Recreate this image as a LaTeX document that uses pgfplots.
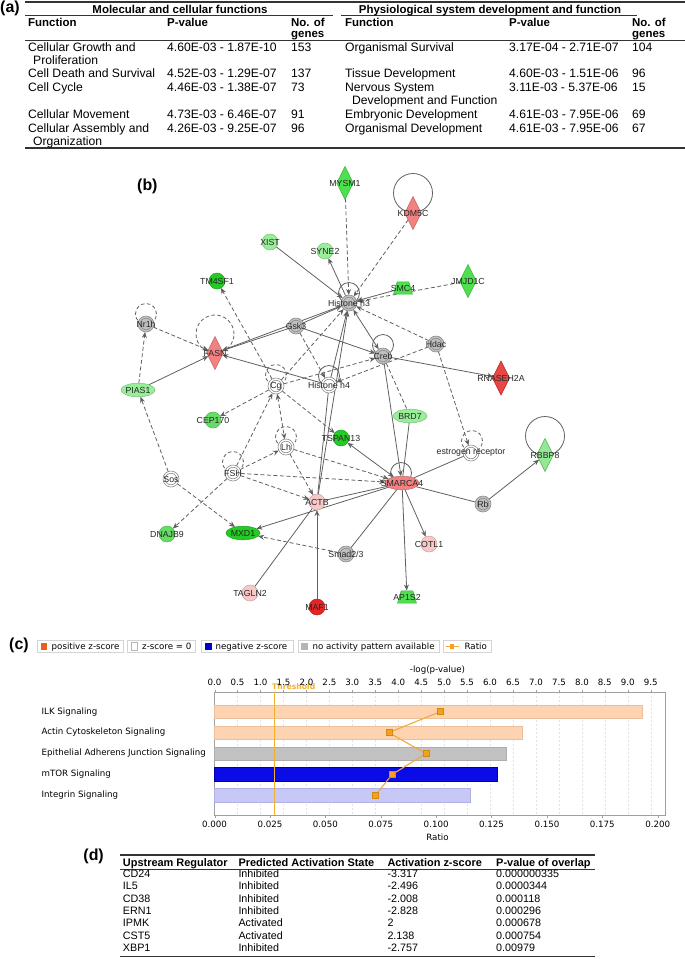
\documentclass[border=0pt]{standalone}
\usepackage{fontspec}
\setmainfont{Liberation Sans}
\newfontfamily\dvs{DejaVu Sans}
\usepackage{pgfplots}
\pgfplotsset{compat=1.18}
\usetikzlibrary{arrows.meta}

% colours
\definecolor{edgec}{HTML}{606060}
\definecolor{gfill}{HTML}{C0C0C0}
\definecolor{gdraw}{HTML}{8A8A8A}
\definecolor{gA}{HTML}{22CC22}
\definecolor{gB}{HTML}{99EE99}
\definecolor{gC}{HTML}{66DD66}
\definecolor{gD}{HTML}{4FE04F}
\definecolor{pk}{HTML}{F8C8C8}
\definecolor{sal}{HTML}{F28282}
\definecolor{rd}{HTML}{E52525}
\definecolor{peach}{HTML}{FDD3B2}
\definecolor{peachd}{HTML}{EBBE9C}
\definecolor{epi}{HTML}{C2C2C2}
\definecolor{epid}{HTML}{ADADAD}
\definecolor{mtor}{HTML}{0B0BE6}
\definecolor{mtord}{HTML}{0000A8}
\definecolor{integ}{HTML}{C8C8F7}
\definecolor{integd}{HTML}{B0B0E8}
\definecolor{ratc}{HTML}{F0AA3C}
\definecolor{ratm}{HTML}{F5A020}
\definecolor{ratd}{HTML}{D08A10}
\definecolor{thrc}{HTML}{F0B030}
\definecolor{framec}{HTML}{A0A0A0}
\definecolor{legpos}{HTML}{E8601C}
\definecolor{legneg}{HTML}{0000CC}
\definecolor{leggray}{HTML}{B4B4B4}
\definecolor{legbox}{HTML}{D4D4D4}
\definecolor{rule}{HTML}{333333}

% fonts
\newcommand\fa{\fontsize{12.2}{14}\selectfont}
\newcommand\fah{\fontsize{11.5}{13}\selectfont\bfseries}
\newcommand\fd{\fontsize{10.8}{12}\selectfont}
\newcommand\fdh{\fontsize{11}{12}\selectfont\bfseries}
\newcommand\nodefont{\fontsize{8.8}{9}\selectfont}
\newcommand\fc{\dvs\fontsize{8.7}{10}\selectfont}
\newcommand\fp{\fontsize{16}{16}\selectfont\bfseries}

% node shapes
\pgfdeclareplotmark{dia}{\pgfpathmoveto{\pgfqpoint{0pt}{2\pgfplotmarksize}}%
  \pgfpathlineto{\pgfqpoint{\pgfplotmarksize}{0pt}}%
  \pgfpathlineto{\pgfqpoint{0pt}{-2\pgfplotmarksize}}%
  \pgfpathlineto{\pgfqpoint{-\pgfplotmarksize}{0pt}}\pgfpathclose\pgfusepathqfillstroke}
\pgfdeclareplotmark{ell}{\pgfpathellipse{\pgfpointorigin}{\pgfqpoint{2\pgfplotmarksize}{0pt}}%
  {\pgfqpoint{0pt}{0.8\pgfplotmarksize}}\pgfusepathqfillstroke}
\pgfdeclareplotmark{trap}{\pgfpathmoveto{\pgfqpoint{-\pgfplotmarksize}{-0.65\pgfplotmarksize}}%
  \pgfpathlineto{\pgfqpoint{\pgfplotmarksize}{-0.65\pgfplotmarksize}}%
  \pgfpathlineto{\pgfqpoint{0.62\pgfplotmarksize}{0.65\pgfplotmarksize}}%
  \pgfpathlineto{\pgfqpoint{-0.62\pgfplotmarksize}{0.65\pgfplotmarksize}}\pgfpathclose\pgfusepathqfillstroke}
\pgfdeclareplotmark{dcirc}{\pgfpathcircle{\pgfpointorigin}{\pgfplotmarksize}\pgfusepathqfillstroke
  \pgfpathcircle{\pgfpointorigin}{0.72\pgfplotmarksize}\pgfusepathqstroke}

\tikzset{
  edgebase/.style={draw=edgec, line width=0.8bp},
  sa/.style={-{Stealth[length=6bp,width=5bp]}},
  ba/.style={{Stealth[length=6bp,width=5bp]}-{Stealth[length=6bp,width=5bp]}},
  ds/.style={dash pattern=on 4bp off 2.5bp},
}

% network nodes: name, x, y (pixels, y down), shape (e/d), half width, half height
\newcommand\N[6]{%
  \expandafter\def\csname nx@#1\endcsname{#2}%
  \expandafter\def\csname ny@#1\endcsname{#3}%
  \expandafter\def\csname ns@#1\endcsname{#4}%
  \expandafter\def\csname na@#1\endcsname{#5}%
  \expandafter\def\csname nb@#1\endcsname{#6}}
\N{MYSM1}{345}{183}{d}{8.25}{16.5}
\N{KDM5C}{413}{213}{d}{8.25}{16.5}
\N{XIST}{270}{242}{e}{8}{8}
\N{SYNE2}{325}{251}{e}{8}{8}
\N{TM4SF1}{217}{281}{e}{8}{8}
\N{Histone h3}{349}{303}{e}{8}{8}
\N{SMC4}{403}{288}{e}{9}{6.5}
\N{JMJD1C}{468}{281}{d}{8.25}{16.5}
\N{Nr1h}{146}{324}{e}{8}{8}
\N{Gsk3}{296}{326}{e}{8}{8}
\N{FASN}{215}{353}{d}{8.25}{16.5}
\N{Creb}{383}{356}{e}{8}{8}
\N{Hdac}{436}{344}{e}{8}{8}
\N{RNASEH2A}{501}{378}{d}{8.5}{16.5}
\N{Cg}{276}{386}{e}{8}{8}
\N{Histone h4}{329}{385}{e}{8}{8}
\N{PIAS1}{138}{390}{e}{17}{6.8}
\N{CEP170}{213}{420}{e}{8}{8}
\N{BRD7}{410}{416}{e}{17}{6.8}
\N{TSPAN13}{341}{438}{e}{8}{8}
\N{Lh}{286}{447}{e}{8}{8}
\N{estrogen receptor}{471}{453}{e}{8}{8}
\N{RBBP8}{545}{455}{d}{8.25}{16.5}
\N{FSH}{233}{473}{e}{8}{8}
\N{Sos}{171}{479}{e}{8}{8}
\N{SMARCA4}{402}{483}{e}{17}{6.8}
\N{ACTB}{317}{502}{e}{8}{8}
\N{Rb}{483}{504}{e}{8}{8}
\N{DNAJB9}{167}{534}{e}{8}{8}
\N{MXD1}{243}{533}{e}{17}{6.8}
\N{COTL1}{429}{544}{e}{8}{8}
\N{Smad2/3}{346}{554}{e}{8}{8}
\N{TAGLN2}{250}{593}{e}{8}{8}
\N{AP1S2}{407}{597}{e}{9}{6.5}
\N{MAF1}{317}{607}{e}{8}{8}

% distance from a node's centre to its border along a direction
\newcommand\bd[3]{%
  \edef\shp{\csname ns@#1\endcsname}%
  \edef\aa{\csname na@#1\endcsname}\edef\bb{\csname nb@#1\endcsname}%
  \if d\shp \pgfmathsetmacro\bdval{1/(#2/\aa+#3/\bb)}%
  \else \pgfmathsetmacro\bdval{\aa*\bb/sqrt((\bb*#2)^2+(\aa*#3)^2)}\fi}

% one edge of the network
\newcommand\E[3][]{%
  \edef\xa{\csname nx@#2\endcsname}\edef\ya{\csname ny@#2\endcsname}%
  \edef\xb{\csname nx@#3\endcsname}\edef\yb{\csname ny@#3\endcsname}%
  \pgfmathsetmacro\dx{\xb-\xa}\pgfmathsetmacro\dy{\yb-\ya}%
  \pgfmathsetmacro\L{veclen(\dx,\dy)}%
  \pgfmathsetmacro\cc{abs(\dx)/\L}\pgfmathsetmacro\ss{abs(\dy)/\L}%
  \bd{#2}{\cc}{\ss}\let\da\bdval
  \bd{#3}{\cc}{\ss}\let\db\bdval
  \edef\tmp{\noexpand\addplot[edgebase,\unexpanded{#1},shorten <=\da bp,shorten >=\db bp]
    coordinates {(\xa,\ya)(\xb,\yb)};}\tmp}

% a group of nodes drawn with one mark style
\newcommand\nodeplot[2]{%
  \gdef\coords{}%
  \foreach \nm in {#2}{\xdef\coords{\coords(\csname nx@\nm\endcsname,\csname ny@\nm\endcsname)[\nm]}}%
  \edef\tmp{\noexpand\addplot[only marks,point meta=explicit symbolic,nodes near coords,
    every node near coord/.append style={anchor=center,font=\noexpand\nodefont,inner sep=0pt,text=black!85},
    \unexpanded{#1}] coordinates {\coords};}\tmp}

\newcommand\T[4][]{\node[anchor=base west, inner sep=0pt, #1] at (#2,#3) {#4};}

\begin{document}
\begin{tikzpicture}
\path[use as bounding box] (0,0) rectangle (685bp,-959bp);

\begin{axis}[at={(0,0)}, anchor=north west, scale only axis,
  width=685bp, height=959bp, xmin=0, xmax=685, ymin=0, ymax=959,
  y dir=reverse, hide axis, clip=false]

%% (a) tables
\T[font=\fp]{0}{12}{(a)}
\draw[rule, line width=1.6bp] (25,2) -- (685,2);
\draw[rule, line width=0.9bp] (25,15.5) -- (333,15.5);
\draw[rule, line width=0.9bp] (341,15.5) -- (637,15.5);
\draw[rule, line width=0.9bp] (25,40) -- (685,40);
\draw[rule, line width=1.6bp] (25,148) -- (685,148);
\T[font=\fah, anchor=base]{180}{13}{Molecular and cellular functions}
\T[font=\fah, anchor=base]{490}{13}{Physiological system development and function}
\T[font=\fah]{28}{26}{Function}
\T[font=\fah]{167}{26}{P-value}
\T[font=\fah]{291}{26}{No. of}
\T[font=\fah]{291}{37}{genes}
\T[font=\fah]{345}{26}{Function}
\T[font=\fah]{509}{26}{P-value}
\T[font=\fah]{632}{26}{No. of}
\T[font=\fah]{632}{37}{genes}

\T[font=\fa]{28}{51}{Cellular Growth and}
\T[font=\fa]{33}{64}{Proliferation}
\T[font=\fa]{167}{51}{4.60E-03 - 1.87E-10}
\T[font=\fa]{291}{51}{153}
\T[font=\fa]{28}{77.5}{Cell Death and Survival}
\T[font=\fa]{167}{77.5}{4.52E-03 - 1.29E-07}
\T[font=\fa]{291}{77.5}{137}
\T[font=\fa]{28}{91}{Cell Cycle}
\T[font=\fa]{167}{91}{4.46E-03 - 1.38E-07}
\T[font=\fa]{291}{91}{73}
\T[font=\fa]{28}{118.5}{Cellular Movement}
\T[font=\fa]{167}{118.5}{4.73E-03 - 6.46E-07}
\T[font=\fa]{291}{118.5}{91}
\T[font=\fa]{28}{132}{Cellular Assembly and}
\T[font=\fa]{33}{145}{Organization}
\T[font=\fa]{167}{132}{4.26E-03 - 9.25E-07}
\T[font=\fa]{291}{132}{96}

\T[font=\fa]{345}{51}{Organismal Survival}
\T[font=\fa]{509}{51}{3.17E-04 - 2.71E-07}
\T[font=\fa]{632}{51}{104}
\T[font=\fa]{345}{77.5}{Tissue Development}
\T[font=\fa]{509}{77.5}{4.60E-03 - 1.51E-06}
\T[font=\fa]{632}{77.5}{96}
\T[font=\fa]{345}{91}{Nervous System}
\T[font=\fa]{352}{104.5}{Development and Function}
\T[font=\fa]{509}{91}{3.11E-03 - 5.37E-06}
\T[font=\fa]{632}{91}{15}
\T[font=\fa]{345}{118.5}{Embryonic Development}
\T[font=\fa]{509}{118.5}{4.61E-03 - 7.95E-06}
\T[font=\fa]{632}{118.5}{69}
\T[font=\fa]{345}{132}{Organismal Development}
\T[font=\fa]{509}{132}{4.61E-03 - 7.95E-06}
\T[font=\fa]{632}{132}{67}

%% (b) network
\T[font=\fp]{137}{190}{(b)}

% self loops
\addplot[only marks, mark=o, mark size=10.5bp, mark options={draw=edgec, line width=0.8bp}]
  coordinates {(349,293)(383,345)(329,376)(401,473)};
\addplot[only marks, mark=o, mark size=10.5bp, mark options={draw=edgec, line width=0.8bp, dash pattern=on 3.5bp off 2.5bp}]
  coordinates {(146,314)(276,375)(286,437)(233,462)(472,441)};
\addplot[only marks, mark=o, mark size=19.5bp, mark options={draw=edgec, line width=0.8bp}]
  coordinates {(413,193)(545,436)};
\addplot[only marks, mark=o, mark size=19bp, mark options={draw=edgec, line width=0.8bp, dash pattern=on 3.5bp off 2.5bp}]
  coordinates {(215,334)};

% edges
\E[sa,ds]{MYSM1}{Histone h3}
\E[sa,ds]{KDM5C}{Histone h3}
\E[sa]{XIST}{Histone h3}
\E[sa]{Histone h3}{SYNE2}
\E[sa]{SMC4}{Histone h3}
\E[sa,ds]{JMJD1C}{Histone h3}
\E[sa,ds]{Hdac}{Histone h3}
\E[sa]{Gsk3}{Histone h3}
\E[sa]{Histone h3}{FASN}
\E[sa]{Gsk3}{FASN}
\E[sa]{Gsk3}{Creb}
\E[sa,ds]{Gsk3}{Histone h4}
\E[sa,ds]{Nr1h}{FASN}
\E[sa,ds]{PIAS1}{Nr1h}
\E[sa]{PIAS1}{FASN}
\E[sa,ds]{Sos}{PIAS1}
\E[sa]{Histone h4}{FASN}
\E[sa,ds]{Cg}{TM4SF1}
\E[sa,ds]{Cg}{Histone h3}
\E[sa,ds]{Cg}{Creb}
\E[sa,ds]{Cg}{CEP170}
\E[sa,ds]{Cg}{TSPAN13}
\E[ba,ds]{Cg}{Lh}
\E[sa,ds]{FSH}{Cg}
\E[sa,ds]{FSH}{Lh}
\E[sa,ds]{FSH}{SMARCA4}
\E[sa,ds]{FSH}{ACTB}
\E[sa,ds]{FSH}{DNAJB9}
\E[sa,ds]{Lh}{ACTB}
\E[sa,ds]{Lh}{SMARCA4}
\E[sa,ds]{Sos}{MXD1}
\E[sa]{Histone h4}{Histone h3}
\E[sa]{ACTB}{Histone h3}
\E[]{ACTB}{Histone h4}
\E[ba]{Creb}{Histone h3}
\E[sa]{Creb}{RNASEH2A}
\E[sa,ds]{Hdac}{Histone h4}
\E[sa,ds]{Hdac}{estrogen receptor}
\E[sa]{Creb}{SMARCA4}
\E[ds]{Creb}{BRD7}
\E[]{BRD7}{SMARCA4}
\E[]{SMARCA4}{estrogen receptor}
\E[ba]{SMARCA4}{TSPAN13}
\E[]{SMARCA4}{Rb}
\E[sa]{Rb}{RBBP8}
\E[]{SMARCA4}{ACTB}
\E[sa]{SMARCA4}{MXD1}
\E[sa,ds]{Smad2/3}{MXD1}
\E[]{SMARCA4}{Smad2/3}
\E[sa]{SMARCA4}{COTL1}
\E[sa]{SMARCA4}{AP1S2}
\E[]{TAGLN2}{ACTB}
\E[sa]{MAF1}{ACTB}

% nodes
\nodeplot{mark=dcirc, mark size=8bp, mark options={fill=gfill, draw=gdraw, line width=0.6bp}}
  {Nr1h,Gsk3,Histone h3,Creb,Hdac,Rb,Smad2/3}
\nodeplot{mark=dcirc, mark size=8bp, mark options={fill=white, draw=gdraw, line width=0.6bp}}
  {Cg,Histone h4,Lh,FSH,Sos,estrogen receptor}
\nodeplot{mark=*, mark size=8bp, mark options={fill=gA, draw=gA!80!black, line width=0.5bp}}
  {TM4SF1,TSPAN13}
\nodeplot{mark=*, mark size=8bp, mark options={fill=gB, draw=gB!80!black, line width=0.5bp}}
  {XIST,SYNE2}
\nodeplot{mark=*, mark size=8bp, mark options={fill=gC, draw=gC!80!black, line width=0.5bp}}
  {CEP170,DNAJB9}
\nodeplot{mark=*, mark size=8bp, mark options={fill=pk, draw=pk!80!black, line width=0.5bp}}
  {ACTB,COTL1,TAGLN2}
\nodeplot{mark=*, mark size=8bp, mark options={fill=rd, draw=rd!80!black, line width=0.5bp}}
  {MAF1}
\nodeplot{mark=ell, mark size=8.5bp, mark options={fill=gB, draw=gB!80!black, line width=0.5bp}}
  {PIAS1,BRD7}
\nodeplot{mark=ell, mark size=8.5bp, mark options={fill=gA, draw=gA!80!black, line width=0.5bp}}
  {MXD1}
\nodeplot{mark=ell, mark size=8.5bp, mark options={fill=sal, draw=sal!80!black, line width=0.5bp}}
  {SMARCA4}
\nodeplot{mark=dia, mark size=8.25bp, mark options={fill=gD, draw=gD!80!black, line width=0.5bp}}
  {MYSM1,JMJD1C}
\nodeplot{mark=dia, mark size=8.25bp, mark options={fill=gC!70!white, draw=gC!80!black, line width=0.5bp}}
  {RBBP8}
\nodeplot{mark=dia, mark size=8.25bp, mark options={fill=sal, draw=sal!80!black, line width=0.5bp}}
  {KDM5C,FASN}
\nodeplot{mark=dia, mark size=8.5bp, mark options={fill=rd!85!white, draw=rd!80!black, line width=0.5bp}}
  {RNASEH2A}
\nodeplot{mark=trap, mark size=9.5bp, mark options={fill=gD, draw=gD!80!black, line width=0.5bp}}
  {SMC4,AP1S2}

%% (c) legend and labels
\T[font=\fp, anchor=base west]{9}{649.5}{(c)}
\draw[legbox, fill=white, line width=0.6bp] (37.1,640) rectangle (123.2,652.7);
\fill[legpos] (40.6,642.7) rectangle (47.2,650);
\T[font=\fc]{51.5}{649.5}{positive z-score}
\draw[legbox, fill=white, line width=0.6bp] (127.6,640) rectangle (195.7,652.7);
\draw[leggray, fill=white, line width=0.5bp] (131,642.7) rectangle (137.6,650);
\T[font=\fc]{142}{649.5}{z-score = 0}
\draw[legbox, fill=white, line width=0.6bp] (201,640) rectangle (293.6,652.7);
\fill[legneg] (205,642.7) rectangle (211.6,650);
\T[font=\fc]{215.4}{649.5}{negative z-score}
\draw[legbox, fill=white, line width=0.6bp] (298,640) rectangle (439,652.7);
\fill[leggray] (301.4,642.7) rectangle (308,650);
\T[font=\fc]{312.4}{649.5}{no activity pattern available}
\draw[legbox, fill=white, line width=0.6bp] (443.4,640) rectangle (491.5,652.7);
\draw[ratc, line width=1.2bp] (445.6,646.3) -- (458.7,646.3);
\fill[ratm] (449.8,644.1) rectangle (454.2,648.5);
\T[font=\fc]{464.4}{649.5}{Ratio}

\node[font=\fc, inner sep=0pt] at (437.5,670) {-log(p-value)};
\node[font=\fc, inner sep=0pt] at (437.5,837) {Ratio};
\node[font=\dvs\fontsize{7.7}{9}\selectfont\bfseries, text=thrc, anchor=west, inner sep=0pt] at (272,686.5) {Threshold};

%% (d) table
\T[font=\fp, anchor=base east]{104}{860}{(d)}
\draw[rule, line width=1.5bp] (120,855) -- (595,855);
\draw[rule, line width=0.8bp] (120,869) -- (595,869);
\draw[rule, line width=1.5bp] (120,956.5) -- (595,956.5);
\T[font=\fdh]{122.7}{866}{Upstream Regulator}
\T[font=\fdh]{238.3}{866}{Predicted Activation State}
\T[font=\fdh]{387.3}{866}{Activation z-score}
\T[font=\fdh]{496}{866}{P-value of overlap}
\T[font=\fd]{122.7}{877.5}{CD24}  \T[font=\fd]{238.3}{877.5}{Inhibited} \T[font=\fd]{387.3}{877.5}{-3.317} \T[font=\fd]{496}{877.5}{0.000000335}
\T[font=\fd]{122.7}{889.8}{IL5}   \T[font=\fd]{238.3}{889.8}{Inhibited} \T[font=\fd]{387.3}{889.8}{-2.496} \T[font=\fd]{496}{889.8}{0.0000344}
\T[font=\fd]{122.7}{902.2}{CD38}  \T[font=\fd]{238.3}{902.2}{Inhibited} \T[font=\fd]{387.3}{902.2}{-2.008} \T[font=\fd]{496}{902.2}{0.000118}
\T[font=\fd]{122.7}{914.5}{ERN1}  \T[font=\fd]{238.3}{914.5}{Inhibited} \T[font=\fd]{387.3}{914.5}{-2.828} \T[font=\fd]{496}{914.5}{0.000296}
\T[font=\fd]{122.7}{926.8}{IPMK}  \T[font=\fd]{238.3}{926.8}{Activated} \T[font=\fd]{387.3}{926.8}{2}      \T[font=\fd]{496}{926.8}{0.000678}
\T[font=\fd]{122.7}{939}{CST5}    \T[font=\fd]{238.3}{939}{Activated}   \T[font=\fd]{387.3}{939}{2.138}    \T[font=\fd]{496}{939}{0.000754}
\T[font=\fd]{122.7}{951.3}{XBP1}  \T[font=\fd]{238.3}{951.3}{Inhibited} \T[font=\fd]{387.3}{951.3}{-2.757} \T[font=\fd]{496}{951.3}{0.00979}
\end{axis}

%% (c) bars against -log(p-value)
\begin{axis}[at={(214.6bp,-815bp)}, anchor=south west, scale only axis,
  width=450.4bp, height=123bp,
  xmin=0, xmax=9.81, ymin=-0.94, ymax=4.94, y dir=reverse,
  bar width=13.5bp, bar shift=0pt,
  xtick distance=0.5, xtick pos=upper, xticklabel pos=upper,
  tick align=outside, major tick length=2.5bp,
  xticklabel style={font=\fc, /pgf/number format/.cd, fixed, fixed zerofill, precision=1, assume math mode=true},
  ytick={0,1,2,3,4},
  yticklabels={ILK Signaling, Actin Cytoskeleton Signaling, Epithelial Adherens Junction Signaling, mTOR Signaling, Integrin Signaling},
  ytick style={draw=none},
  yticklabel style={font=\fc, anchor=west, xshift=-174bp},
  xmajorgrids, grid style={draw=gray!22, dash pattern=on 2bp off 2bp},
  axis line style={draw=framec, line width=0.8bp}, tick style={draw=framec},
  clip=false]
\addplot[xbar, fill=peach, draw=peachd] coordinates {(9.32,0)};
\addplot[xbar, fill=peach, draw=peachd] coordinates {(6.70,1)};
\addplot[xbar, fill=epi, draw=epid] coordinates {(6.36,2)};
\addplot[xbar, fill=mtor, draw=mtord] coordinates {(6.15,3)};
\addplot[xbar, fill=integ, draw=integd] coordinates {(5.57,4)};
\addplot[sharp plot, draw=thrc, line width=0.6bp] coordinates {(1.3,-0.94)(1.3,4.94)};
\end{axis}

%% (c) ratio
\begin{axis}[at={(214.6bp,-815bp)}, anchor=south west, scale only axis,
  width=450.4bp, height=123bp,
  xmin=0, xmax=0.2033, ymin=-0.94, ymax=4.94, y dir=reverse,
  axis x line*=bottom, axis y line=none,
  xtick={0,0.025,0.05,0.075,0.1,0.125,0.15,0.175,0.2}, scaled x ticks=false,
  xticklabel style={font=\fc, /pgf/number format/.cd, fixed, fixed zerofill, precision=3, assume math mode=true},
  tick align=outside, major tick length=2.5bp,
  axis line style={draw=framec, line width=0.8bp}, tick style={draw=framec},
  clip=false]
\addplot[draw=ratc, line width=1.1bp, mark=square*, mark size=3bp,
  mark options={fill=ratm, draw=ratd, line width=0.4bp}]
  coordinates {(0.1019,0)(0.0786,1)(0.0953,2)(0.0802,3)(0.0725,4)};
\end{axis}
\end{tikzpicture}
\end{document}
